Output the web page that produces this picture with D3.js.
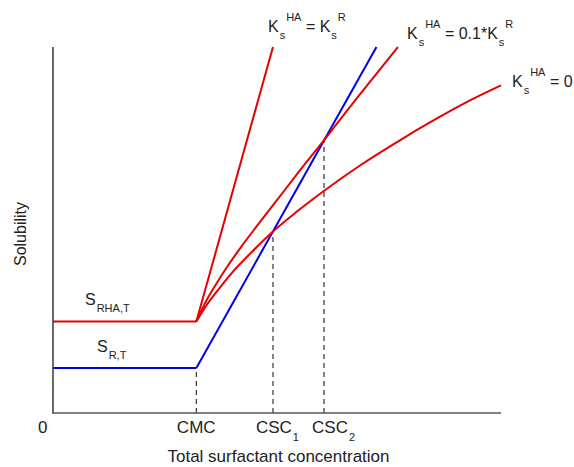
<!DOCTYPE html>
<html>
<head>
<meta charset="utf-8">
<script src="https://cdn.jsdelivr.net/npm/d3@7/dist/d3.min.js"></script>
<style>
  html, body { margin: 0; padding: 0; background: #fff; }
  svg { display: block; font-family: "Liberation Sans", Arial, Helvetica, sans-serif; }
</style>
</head>
<body>
<svg id="chart" width="574" height="467"></svg>
<script>
// Characteristic concentrations (arbitrary units)
const cmc = 3.2;
const csc1 = 4.91;
const csc2 = 6.05;

// Solubility plateaus below the CMC
const solR = 1.23;
const solRHA = 2.5;

// Solubility of R above the CMC (linear)
const rX = [3.2, 7.22];
const rY = [1.23, 10];

// RHA solubility, Ks^HA = Ks^R
const equalX = [3.2, 4.91];
const equalY = [2.5, 10];

// RHA solubility, Ks^HA = 0.1*Ks^R
const tenthX = [3.2, 3.31, 3.42, 3.65, 3.87, 4.20, 4.54, 4.99, 5.52, 6.06, 6.77, 7.70];
const tenthY = [2.5, 2.79, 3.06, 3.54, 3.96, 4.54, 5.09, 5.80, 6.64, 7.47, 8.58, 10.0];

// RHA solubility, Ks^HA = 0
const zeroX = [3.2, 3.31, 3.42, 3.65, 3.98, 4.43, 4.91, 5.43, 6.06, 6.86, 7.66, 8.56, 9.34, 10.0];
const zeroY = [2.5, 2.72, 2.93, 3.31, 3.81, 4.39, 4.96, 5.49, 6.08, 6.77, 7.39, 8.04, 8.56, 8.95];

// Axis tick labels
const tickValues = [0, cmc, csc1, csc2];
const tickNames = ["0", "CMC", "CSC", "CSC"];
const tickSubs = ["", "", "1", "2"];
// Heights where the dashed guides meet the curves
const guideTops = [null, solR, 4.96, 7.45];

const svg = d3.select("#chart");
const x = d3.scaleLinear().domain([0, 10]).range([53, 501]);
const y = d3.scaleLinear().domain([0, 10]).range([413, 47]);

const red = "#e60000";
const blue = "#0000e6";

const zip = (xs, ys) => xs.map((v, i) => [v, ys[i]]);
const lineLin = d3.line().x(d => x(d[0])).y(d => y(d[1]));
const lineSmooth = d3.line().x(d => x(d[0])).y(d => y(d[1])).curve(d3.curveMonotoneX);

// Dashed guides from the x axis up to the crossings
tickValues.forEach((v, i) => {
  if (guideTops[i] === null) return;
  svg.append("line")
    .attr("x1", x(v)).attr("x2", x(v))
    .attr("y1", y(0)).attr("y2", y(guideTops[i]))
    .attr("stroke", "#333").attr("stroke-width", 1.2)
    .attr("stroke-dasharray", "5,4");
});

// Blue: R
svg.append("path").attr("d", lineLin([[0, solR], [cmc, solR]]))
  .attr("fill", "none").attr("stroke", blue).attr("stroke-width", 2);
svg.append("path").attr("d", lineLin(zip(rX, rY)))
  .attr("fill", "none").attr("stroke", blue).attr("stroke-width", 2);

// Red: RHA
svg.append("path").attr("d", lineLin([[0, solRHA], [cmc, solRHA]]))
  .attr("fill", "none").attr("stroke", red).attr("stroke-width", 2);
svg.append("path").attr("d", lineLin(zip(equalX, equalY)))
  .attr("fill", "none").attr("stroke", red).attr("stroke-width", 2);
svg.append("path").attr("d", lineSmooth(zip(tenthX, tenthY)))
  .attr("fill", "none").attr("stroke", red).attr("stroke-width", 2);
svg.append("path").attr("d", lineSmooth(zip(zeroX, zeroY)))
  .attr("fill", "none").attr("stroke", red).attr("stroke-width", 2);

// Axes
svg.append("line")
  .attr("x1", x(0)).attr("x2", x(0)).attr("y1", y(0) + 0.8).attr("y2", y(10))
  .attr("stroke", "#444").attr("stroke-width", 1.6);
svg.append("line")
  .attr("x1", x(0)).attr("x2", x(10)).attr("y1", y(0)).attr("y2", y(0))
  .attr("stroke", "#555").attr("stroke-width", 1.6);

// Tick labels (left edge of each label relative to its tick)
const tickOffsets = [-15, -19.5, -17, -12];
tickValues.forEach((v, i) => {
  const t = svg.append("text")
    .attr("x", x(v) + tickOffsets[i]).attr("y", 433)
    .attr("font-size", 17).attr("fill", "#222");
  t.append("tspan").text(tickNames[i]);
  if (tickSubs[i]) {
    t.append("tspan").attr("font-size", 11).attr("dy", 8).attr("dx", 1).text(tickSubs[i]);
  }
});

// Axis titles
svg.append("text")
  .attr("x", 278.5).attr("y", 462)
  .attr("text-anchor", "middle").attr("font-size", 17).attr("fill", "#222")
  .text("Total surfactant concentration");
svg.append("text")
  .attr("transform", "translate(26,234) rotate(-90)")
  .attr("text-anchor", "middle").attr("font-size", 16).attr("fill", "#222")
  .text("Solubility");

// Curve annotations: K_s^HA relations
function ksLabel(px, py, rest, tail) {
  const t = svg.append("text").attr("x", px).attr("y", py)
    .attr("font-size", 16).attr("fill", "#222");
  t.append("tspan").text("K");
  t.append("tspan").attr("font-size", 11).attr("dy", 7).attr("dx", 1).text("s");
  t.append("tspan").attr("font-size", 11).attr("dy", -18).attr("dx", 1).text("HA");
  t.append("tspan").attr("dy", 11).text(rest);
  if (tail) {
    t.append("tspan").attr("font-size", 11).attr("dy", 7).attr("dx", 1).text("s");
    t.append("tspan").attr("font-size", 11).attr("dy", -18).attr("dx", 1).text(tail);
  }
}
ksLabel(268, 32, " = K", "R");
ksLabel(407, 39, " = 0.1*K", "R");
ksLabel(512, 87, " = 0", null);

// Plateau labels
function plateauLabel(px, py, sub) {
  const t = svg.append("text").attr("x", px).attr("y", py)
    .attr("font-size", 16).attr("fill", "#222");
  t.append("tspan").text("S");
  t.append("tspan").attr("font-size", 11).attr("dy", 7).attr("dx", 1).text(sub);
}
plateauLabel(85, 305, "RHA,T");
plateauLabel(97, 352, "R,T");
</script>
</body>
</html>
